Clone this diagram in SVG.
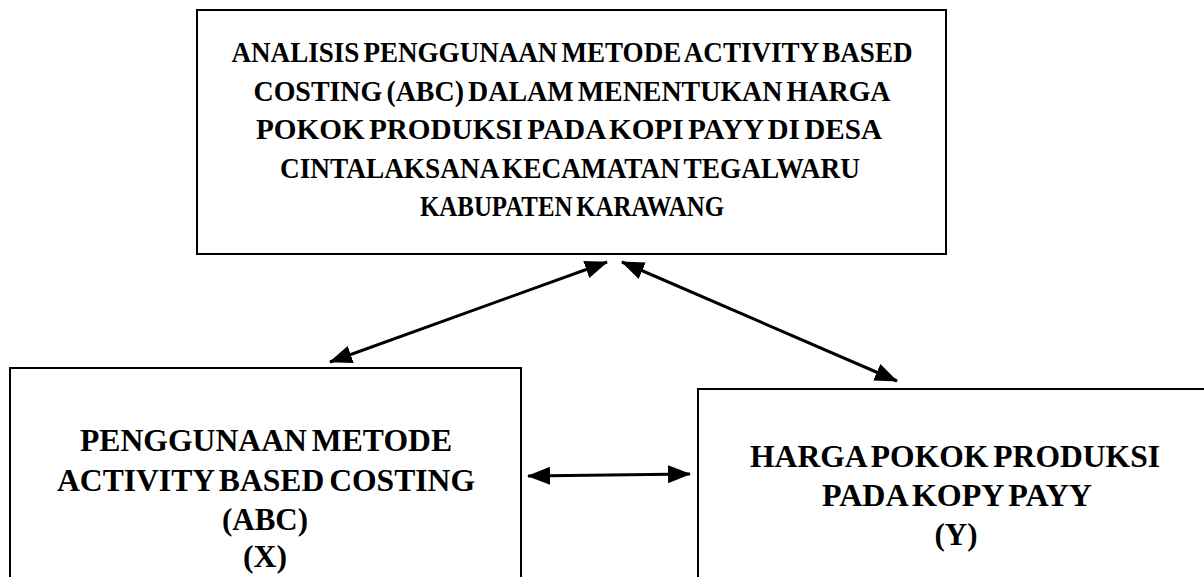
<svg xmlns="http://www.w3.org/2000/svg" width="1204" height="577" viewBox="0 0 1204 577">
<style>
.box{fill:#fff;stroke:#000;stroke-width:2}
.t{font-family:"Liberation Serif","Times New Roman",serif;font-weight:bold;font-size:30px;fill:#000;text-anchor:middle;word-spacing:-3px}
.s{font-size:32px}
.c{stroke:#000;stroke-width:3;fill:none}
</style>
<defs>
<marker id="ah" markerUnits="userSpaceOnUse" markerWidth="24" markerHeight="18" refX="22" refY="9" orient="auto-start-reverse" viewBox="0 0 24 18">
<path d="M0,0 L23,9 L0,18 z" fill="#000"/>
</marker>
</defs>
<rect width="1204" height="577" fill="#fff"/>
<g id="top">
<rect class="box" x="197" y="10" width="749" height="244"/>
<text class="t" x="572" y="62" textLength="681" lengthAdjust="spacingAndGlyphs">ANALISIS PENGGUNAAN METODE ACTIVITY BASED</text>
<text class="t" x="572" y="100.5" textLength="637" lengthAdjust="spacingAndGlyphs">COSTING (ABC) DALAM MENENTUKAN HARGA</text>
<text class="t" x="569" y="139" textLength="626" lengthAdjust="spacingAndGlyphs">POKOK PRODUKSI PADA KOPI PAYY DI DESA</text>
<text class="t" x="570" y="177.5" textLength="580" lengthAdjust="spacingAndGlyphs">CINTALAKSANA KECAMATAN TEGALWARU</text>
<text class="t" x="572" y="216" textLength="304" lengthAdjust="spacingAndGlyphs">KABUPATEN KARAWANG</text>
</g>
<g id="x">
<rect class="box" x="10" y="368" width="511" height="230"/>
<text class="t s" x="266" y="451" textLength="372" lengthAdjust="spacingAndGlyphs">PENGGUNAAN METODE</text>
<text class="t s" x="266" y="491" textLength="418" lengthAdjust="spacingAndGlyphs">ACTIVITY BASED COSTING</text>
<text class="t s" x="265" y="530" textLength="86" lengthAdjust="spacingAndGlyphs">(ABC)</text>
<text class="t s" x="265" y="567" textLength="44" lengthAdjust="spacingAndGlyphs">(X)</text>
</g>
<g id="y">
<rect class="box" x="698" y="389" width="520" height="220"/>
<text class="t s" x="955" y="467" textLength="410" lengthAdjust="spacingAndGlyphs">HARGA POKOK PRODUKSI</text>
<text class="t s" x="957" y="506" textLength="270" lengthAdjust="spacingAndGlyphs">PADA KOPY PAYY</text>
<text class="t s" x="956" y="545" textLength="43" lengthAdjust="spacingAndGlyphs">(Y)</text>
</g>
<g id="connectors">
<line class="c" x1="607" y1="262" x2="330" y2="362" marker-start="url(#ah)" marker-end="url(#ah)"/>
<line class="c" x1="622" y1="262" x2="897" y2="381" marker-start="url(#ah)" marker-end="url(#ah)"/>
<line class="c" x1="528" y1="476" x2="690" y2="474" marker-start="url(#ah)" marker-end="url(#ah)"/>
</g>
</svg>
